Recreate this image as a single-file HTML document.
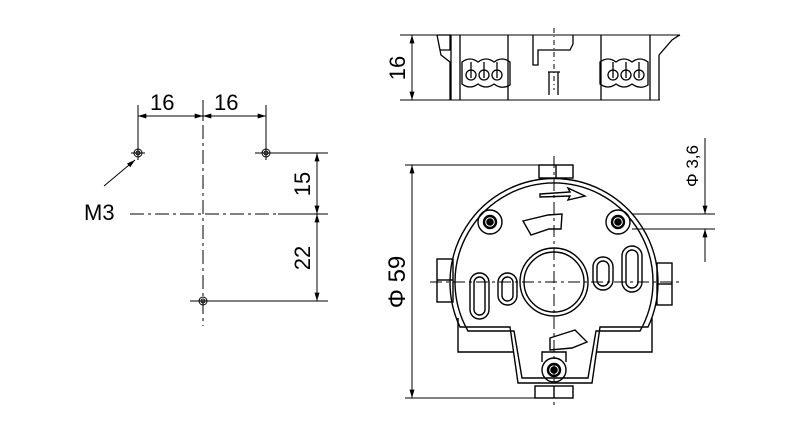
<!DOCTYPE html>
<html><head><meta charset="utf-8"><style>
html,body{margin:0;padding:0;background:#fff;}
svg{display:block;}
text{font-family:"Liberation Sans",sans-serif;fill:#000;}
</style></head><body>
<svg width="800" height="434" viewBox="0 0 800 434" xmlns="http://www.w3.org/2000/svg">
<defs>
<marker id="a" viewBox="0 0 10 6" refX="10" refY="3" markerWidth="14" markerHeight="5" orient="auto-start-reverse" markerUnits="userSpaceOnUse"><path d="M0,0L10,3L0,6z" fill="#000"/></marker>
</defs>
<g stroke="#000" fill="none" stroke-width="1">
<!-- LEFT DRAWING -->
<line x1="130" y1="214" x2="278" y2="214" stroke-dasharray="14,4,3,4"/>
<line x1="203" y1="100" x2="203" y2="326" stroke-dasharray="14,4,3,4"/>
<line x1="138" y1="105" x2="138" y2="146"/>
<line x1="266" y1="105" x2="266" y2="146"/>
<line x1="203" y1="104" x2="203" y2="120"/>
<line x1="138" y1="116" x2="203" y2="116" marker-start="url(#a)" marker-end="url(#a)"/>
<line x1="203" y1="116" x2="266" y2="116" marker-start="url(#a)" marker-end="url(#a)"/>
<line x1="272" y1="153" x2="328" y2="153"/>
<line x1="278" y1="214" x2="328" y2="214"/>
<line x1="210" y1="301" x2="328" y2="301"/>
<line x1="317" y1="153" x2="317" y2="214" marker-start="url(#a)" marker-end="url(#a)"/>
<line x1="317" y1="214" x2="317" y2="301" marker-start="url(#a)" marker-end="url(#a)"/>
<g>
<circle cx="138" cy="153" r="4"/><circle cx="138" cy="153" r="2"/>
<line x1="131" y1="153" x2="145" y2="153"/><line x1="138" y1="146" x2="138" y2="160"/>
<circle cx="266" cy="153" r="4"/><circle cx="266" cy="153" r="2"/>
<line x1="255" y1="153" x2="273" y2="153"/><line x1="266" y1="146" x2="266" y2="160"/>
<circle cx="203" cy="301" r="4"/><circle cx="203" cy="301" r="2"/>
<line x1="190" y1="301" x2="210" y2="301"/>
</g>
<line x1="104" y1="186" x2="135" y2="160" marker-end="url(#a)"/>

<!-- TOP VIEW -->
<line x1="400" y1="35" x2="680" y2="35"/>
<line x1="400" y1="100" x2="660" y2="100"/>
<line x1="412" y1="35" x2="412" y2="100" marker-start="url(#a)" marker-end="url(#a)"/>
<g stroke-width="1.3">
<path d="M437,35 L441,55 L450,62 L450,100 M437,35 L450,35 L450,50 L440,50"/>
<line x1="451" y1="35" x2="451" y2="100"/>
<line x1="460" y1="35" x2="460" y2="100"/>
<line x1="508" y1="35" x2="508" y2="100"/>
<line x1="601" y1="35" x2="601" y2="100"/>
<line x1="650" y1="35" x2="650" y2="100"/>
<line x1="659" y1="55" x2="659" y2="100"/>
<path d="M659,55 L672,40 L678,36 L680,35"/>
<path d="M533,35 L533,65 L538,65 L538,50 L570,50 L573,44 L573,35"/>
<path d="M549,72 L549,95 M558,72 L558,95 M548,72 L560,72"/>
<path d="M462,62 Q470,56 478,62 Q486,56 494,62 Q502,56 510,62 L510,85 Q502,90 494,84 Q486,90 478,84 Q470,90 462,84 Z"/>
<path d="M600,62 Q608,56 616,62 Q624,56 632,62 Q640,56 648,62 L648,85 Q640,90 632,84 Q624,90 616,84 Q608,90 600,84 Z"/>
<circle cx="471" cy="75" r="5"/><circle cx="484" cy="75" r="5"/><circle cx="497" cy="75" r="5"/>
<circle cx="613" cy="75" r="5"/><circle cx="626" cy="75" r="5"/><circle cx="639" cy="75" r="5"/>
<line x1="471" y1="62" x2="471" y2="78"/><line x1="484" y1="62" x2="484" y2="78"/><line x1="497" y1="62" x2="497" y2="78"/>
<line x1="613" y1="62" x2="613" y2="78"/><line x1="626" y1="62" x2="626" y2="78"/><line x1="639" y1="62" x2="639" y2="78"/>
</g>
<line x1="554" y1="28" x2="554" y2="90" stroke-dasharray="5,3,1,3"/>

<!-- BOTTOM VIEW -->
<line x1="405" y1="165" x2="545" y2="165"/>
<line x1="405" y1="398" x2="540" y2="398"/>
<line x1="412" y1="165" x2="412" y2="398" marker-start="url(#a)" marker-end="url(#a)"/>
<line x1="430" y1="282" x2="680" y2="282" stroke-dasharray="12,4,3,4"/>
<line x1="554" y1="156" x2="554" y2="408" stroke-dasharray="12,4,3,4"/>
<g stroke-width="1.4">
<path d="M510,327 L460,327 A104,104 0 1 1 648,327 L600,327 L592,383 L518,383 Z"/>
<path d="M514,331 L468,331 A99,99 0 1 1 640,331 L596,331 L588,378 L522,378 Z"/>
<path d="M458,318 L458,352 L514,352 M652,318 L652,352 L596,352"/>
<rect x="539" y="165" width="34" height="13"/><line x1="556" y1="165" x2="556" y2="178"/>
<rect x="535" y="386" width="38" height="12"/><line x1="554" y1="386" x2="554" y2="398"/>
<rect x="437" y="259" width="16" height="43"/><line x1="437" y1="280" x2="453" y2="280"/>
<rect x="657" y="263" width="15" height="42"/><line x1="657" y1="284" x2="672" y2="284"/>
<circle cx="554" cy="282" r="34"/><circle cx="554" cy="282" r="30"/>
<circle cx="490" cy="222" r="12"/><circle cx="490" cy="222" r="6" stroke-width="2.4"/>
<circle cx="618" cy="222" r="12"/><circle cx="618" cy="222" r="6" stroke-width="2.4"/>
<circle cx="554" cy="370" r="12"/><circle cx="554" cy="370" r="6" stroke-width="2.4"/>
<rect x="470" y="273" width="19" height="46" rx="9.5"/><rect x="474" y="277" width="11" height="38" rx="5.5"/>
<rect x="498" y="273" width="19" height="32" rx="9.5"/><rect x="502" y="277" width="11" height="24" rx="5.5"/>
<rect x="593" y="257" width="20" height="33" rx="10"/><rect x="597" y="261" width="12" height="25" rx="6"/>
<rect x="622" y="246" width="20" height="46" rx="10"/><rect x="626" y="250" width="12" height="38" rx="6"/>
<path d="M523,221 L548,215 L562,214 L561,229 L549,229 L531,235 Z"/>
<path d="M540,194 L570,192 L568,188 L585,196 L568,200 L570,196 L540,197 Z"/>
<path d="M550,338 L575,330 L587,342 L572,348 L550,350 Z"/>
<path d="M542,362 L542,352 L566,352 L566,362"/>
</g>
<line x1="632" y1="214" x2="715" y2="214"/>
<line x1="632" y1="229" x2="715" y2="229"/>
<line x1="705" y1="138" x2="705" y2="214" marker-end="url(#a)"/>
<line x1="705" y1="229" x2="705" y2="262" marker-start="url(#a)"/>
</g>
<g fill="#000" stroke="#000" stroke-width="1.6">
<circle cx="490" cy="222" r="3"/><circle cx="618" cy="222" r="3"/><circle cx="554" cy="370" r="3"/>
</g>
<text x="150" y="110" font-size="22">16</text>
<text x="214" y="110" font-size="22">16</text>
<text x="84" y="220" font-size="22">M3</text>
<text transform="translate(310,184) rotate(-90)" font-size="22" text-anchor="middle">15</text>
<text transform="translate(310,258) rotate(-90)" font-size="22" text-anchor="middle">22</text>
<text transform="translate(405,68) rotate(-90)" font-size="22" text-anchor="middle">16</text>
<text transform="translate(405,282) rotate(-90)" font-size="24" text-anchor="middle">Φ 59</text>
<text transform="translate(698,166) rotate(-90)" font-size="17" text-anchor="middle">Φ 3,6</text>
</svg>
</body></html>
